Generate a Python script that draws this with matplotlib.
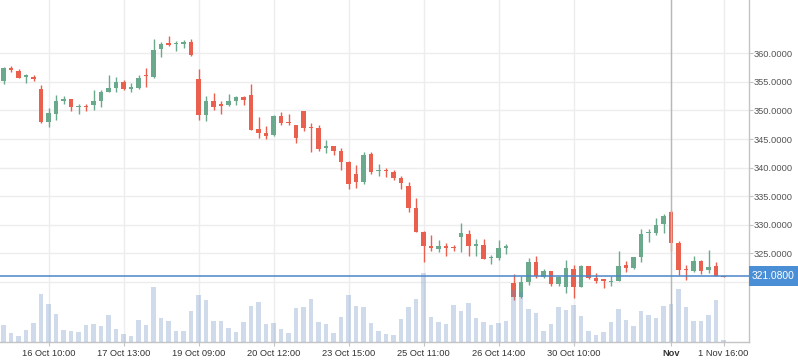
import matplotlib
matplotlib.use('Agg')
import matplotlib.pyplot as plt
import matplotlib.transforms as mtransforms
from matplotlib.patches import Rectangle
import numpy as np

plt.rcParams['font.family'] = ['Liberation Sans', 'DejaVu Sans']

# OHLC, one candle per hour (index = candle number)
opens = [355.15, 357.48, 356.9, 355.9, 355.9, 353.75, 347.9, 349.45, 351.7, 352.05,
         350.55, 350.65, 350.95, 351.65, 353.2, 353.9, 355.05, 353.8, 354.0, 356.05,
         355.9, 360.8, 361.85, 361.55, 361.7, 362.0, 355.5, 349.25, 351.65, 350.95,
         351.0, 351.7, 352.35, 352.7, 346.75, 346.05, 345.7, 349.05, 347.85, 347.45,
         349.9, 346.95, 346.9, 343.5, 343.8, 342.9, 340.95, 338.9, 337.55, 342.4,
         339.35, 339.5, 339.2, 338.2, 336.8, 332.9, 328.75, 326.3, 325.8, 326.3,
         326.0, 327.9, 328.35, 326.35, 326.45, 324.1, 324.2, 326.0, 319.8, 317.3,
         320.0, 323.5, 320.9, 321.9, 319.7, 319.15, 322.3, 319.15, 322.8, 320.6,
         320.25, 320.0, 320.2, 323.0, 322.45, 324.4, 328.5, 328.6, 330.2, 332.2,
         326.8, 322.1, 321.9, 323.65, 322.1, 322.8, 321.05]
highs = [357.65, 357.78, 357.25, 356.3, 356.2, 354.45, 350.4, 352.7, 352.5, 352.05,
         351.1, 351.05, 353.5, 353.6, 356.2, 355.85, 355.3, 354.75, 356.2, 357.5,
         362.5, 362.0, 363.0, 362.15, 362.35, 362.5, 357.25, 352.5, 353.05, 351.65,
         352.9, 352.5, 352.5, 354.6, 348.85, 347.3, 349.25, 349.75, 349.45, 347.45,
         349.9, 347.85, 347.45, 344.85, 343.8, 343.4, 341.2, 340.4, 342.7, 342.7,
         340.6, 340.0, 339.6, 338.6, 337.5, 334.65, 328.95, 328.2, 327.35, 326.85,
         326.45, 330.3, 329.1, 327.5, 327.5, 324.7, 327.35, 326.65, 321.4, 321.0,
         324.25, 324.5, 322.25, 321.9, 321.1, 323.85, 323.0, 323.0, 322.8, 321.55,
         320.35, 321.0, 325.4, 323.65, 324.35, 329.25, 329.25, 331.2, 331.85, 332.6,
         327.15, 322.95, 324.55, 323.85, 325.6, 323.5, 321.05]
lows = [354.68, 356.68, 355.7, 354.85, 355.2, 347.8, 347.15, 348.4, 351.2, 349.9,
        349.4, 349.9, 350.1, 350.65, 353.2, 353.2, 353.6, 353.3, 353.8, 354.15,
        355.7, 359.4, 361.35, 360.45, 361.0, 359.6, 348.4, 348.2, 350.15, 349.45,
        350.8, 351.0, 351.0, 346.65, 345.2, 345.0, 345.5, 347.45, 347.45, 344.35,
        346.4, 342.8, 342.95, 342.6, 342.25, 339.65, 336.3, 336.45, 337.2, 338.95,
        338.5, 338.4, 337.8, 336.3, 332.3, 328.8, 323.5, 325.45, 325.3, 324.5,
        325.45, 325.3, 324.5, 324.55, 324.05, 323.2, 323.9, 324.95, 316.8, 317.1,
        319.5, 320.75, 320.75, 319.35, 319.35, 318.1, 317.25, 319.15, 320.55, 319.85,
        318.95, 319.3, 320.2, 321.8, 322.25, 323.55, 327.0, 328.25, 328.6, 325.45,
        321.25, 320.4, 321.75, 321.4, 321.6, 321.05, 320.85]
closes = [357.48, 357.13, 355.73, 356.0, 355.5, 347.9, 349.55, 351.65, 352.05, 350.65,
          350.65, 350.55, 351.65, 353.2, 353.9, 354.95, 353.7, 353.95, 355.6, 355.95,
          360.6, 361.6, 361.5, 361.65, 362.05, 359.75, 349.25, 351.65, 350.65, 350.85,
          351.65, 352.35, 351.9, 346.65, 346.1, 345.5, 349.05, 347.85, 347.75, 345.2,
          346.95, 346.85, 343.25, 343.75, 342.95, 341.05, 337.15, 337.55, 342.2, 339.3,
          339.45, 339.4, 338.25, 337.35, 333.0, 328.8, 326.35, 325.95, 326.3, 325.95,
          325.9, 328.55, 326.35, 326.45, 324.05, 324.35, 325.9, 326.15, 317.3, 320.0,
          323.5, 321.1, 321.9, 319.7, 320.85, 322.45, 319.15, 322.8, 320.75, 320.2,
          320.2, 320.1, 322.8, 322.45, 324.35, 328.4, 328.6, 329.95, 331.5, 326.85,
          322.1, 322.0, 323.65, 321.95, 322.6, 321.05, 320.85]
volumes = [17, 9, 6, 12, 19, 48, 38, 28, 12, 11,
           10, 17, 18, 16, 27, 13, 8, 6, 22, 17,
           55, 24, 21, 11, 11, 31, 47, 42, 21, 21,
           14, 10, 20, 36, 40, 18, 19, 13, 9, 34,
           35, 43, 20, 18, 9, 25, 47, 36, 35, 19,
           11, 8, 7, 23, 35, 43, 69, 25, 20, 18,
           37, 31, 39, 24, 20, 17, 19, 21, 52, 50,
           33, 29, 11, 18, 35, 32, 37, 26, 11, 7,
           10, 20, 33, 22, 16, 31, 27, 24, 36, 38,
           53, 35, 21, 21, 27, 42, 2]

tick_idx = [6, 16, 26, 36, 46, 56, 66, 76, 89, 96]
tick_labels = ['16 Oct 10:00', '17 Oct 13:00', '19 Oct 09:00', '20 Oct 12:00',
               '23 Oct 15:00', '25 Oct 11:00', '26 Oct 14:00', '30 Oct 10:00',
               'Nov', '1 Nov 16:00']
price_ticks = [320, 325, 330, 335, 340, 345, 350, 355, 360]
last_price = 321.08
cross_idx = 89

up_col = '#6aa98b'
down_col = '#e9604f'
grid_col = '#ededed'
axis_col = '#c4c4c4'

o = np.array(opens)
h = np.array(highs)
l = np.array(lows)
c = np.array(closes)
x = np.arange(len(o))
cols = [up_col if cc >= oo else down_col for oo, cc in zip(o, c)]

fig = plt.figure(figsize=(7.98, 3.63), dpi=100)
ax = fig.add_axes([0, 21 / 363, 749 / 798, 342 / 363])
ax2 = ax.twinx()  # volume, own scale

ax.vlines(x, l, h, colors=cols, linewidth=1.0, zorder=2)
body = np.maximum(np.abs(c - o), 0.22)
ax.bar(x, body, bottom=np.minimum(o, c), width=0.66, color=cols, linewidth=0, zorder=3)

ax.set_xlim(-0.47, 99.4)
ax.set_ylim(309.48, 369.33)

ax.yaxis.tick_right()
ax.set_yticks(price_ticks)
ax.set_yticklabels(['' if p == 320 else f'{p:.4f}' for p in price_ticks])
ax.set_xticks(tick_idx)
ax.set_xticklabels(tick_labels)
for lab in ax.get_xticklabels():
    if lab.get_text() == 'Nov':
        lab.set_fontweight('bold')
ax.grid(True, color=grid_col, linewidth=1.0, zorder=0)
ax.set_axisbelow(True)

for s in ['left', 'top']:
    ax.spines[s].set_visible(False)
for s in ['right', 'bottom']:
    ax.spines[s].set_color(axis_col)
    ax.spines[s].set_linewidth(1.0)
ax.tick_params(axis='y', colors=axis_col, labelcolor='#555555', labelsize=6.7,
               length=2.6, pad=0.8, left=False, labelleft=False,
               right=True, labelright=True)
ax.tick_params(axis='x', colors=axis_col, labelcolor='#333333', labelsize=6.7,
               length=2.6, pad=2.5)

ax2.bar(x, volumes, width=0.66, color='#628ac0', alpha=0.3, linewidth=0, zorder=2)
ax2.set_ylim(0, max(volumes) * 4.95)
ax2.set_yticks([])
ax2.tick_params(axis='y', right=False, labelright=False)
for s in ax2.spines.values():
    s.set_visible(False)
ax2.set_xlim(ax.get_xlim())

ax2.axvline(cross_idx, color='#b8b8b8', linewidth=1.0, zorder=4)
ax2.plot(ax.get_xlim(), [last_price, last_price], transform=ax.transData,
         color='#4a86c8', linewidth=1.1, zorder=4)

# last price tag on the right axis
trans = mtransforms.blended_transform_factory(ax.transAxes, ax.transData)
ax2.add_patch(Rectangle((1.0, last_price - 1.75), 49 / 749, 3.5, transform=trans,
                        facecolor='#4a8fd6', edgecolor='none', clip_on=False, zorder=6))
ax2.text(1.0 + 24.5 / 749, last_price, f'{last_price:.4f}', transform=trans,
         ha='center', va='center', color='white', fontsize=7.4, zorder=7, clip_on=False)

fig.savefig('out.png', dpi=100)
